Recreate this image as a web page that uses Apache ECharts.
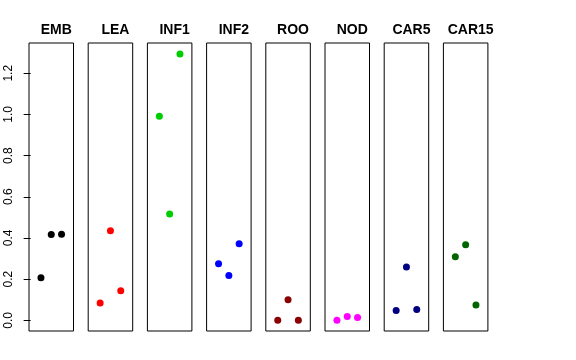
<!DOCTYPE html>
<html><head><meta charset="utf-8">
<script src="https://cdn.jsdelivr.net/npm/echarts@6/dist/echarts.min.js"></script>
<style>html,body{margin:0;padding:0;background:#fff}#c{width:576px;height:360px}</style>
</head><body><div id="c"></div>
<script>
const panels = ['EMB','LEA','INF1','INF2','ROO','NOD','CAR5','CAR15'];
const xPos = [1, 2, 3];
const EMB = [0.207, 0.417, 0.418];
const LEA = [0.084, 0.435, 0.144];
const INF1 = [0.991, 0.516, 1.294];
const INF2 = [0.275, 0.218, 0.372];
const ROO = [0.000, 0.100, 0.000];
const NOD = [0.000, 0.018, 0.013];
const CAR5 = [0.048, 0.259, 0.053];
const CAR15 = [0.309, 0.367, 0.074];
const yTicks = [0, 0.2, 0.4, 0.6, 0.8, 1.0, 1.2];
const seriesValues = [EMB, LEA, INF1, INF2, ROO, NOD, CAR5, CAR15];
const colors = ['#000000','#ff0000','#00cd00','#0000ff','#8b0000','#ff00ff','#000080','#006400'];

const FONT = 'Liberation Sans, Helvetica, Arial, sans-serif';
const gLeft0 = 29, gStep = 59.2, gW = 44.5, gTop = 43, gH = 288;
const ymin = -0.052, ymax = 1.347;

const grids = [], xAxes = [], yAxes = [], series = [], titles = [];
panels.forEach((name, i) => {
  const l = gLeft0 + i * gStep;
  grids.push({left: l, top: gTop, width: gW, height: gH, show: true, borderColor: '#000', borderWidth: 1, backgroundColor: 'transparent'});
  xAxes.push({type: 'value', gridIndex: i, min: -0.16, max: 4.16, show: false});
  yAxes.push({
    type: 'value', gridIndex: i, min: ymin, max: ymax,
    show: i === 0,
    splitLine: {show: false},
    axisLine: {show: false},
    axisTick: {show: true, length: 7, lineStyle: {color: '#000'}, customValues: yTicks},
    axisLabel: {show: true, rotate: 90, margin: 14, color: '#000', fontSize: 12, fontFamily: FONT,
      customValues: yTicks, formatter: v => v.toFixed(1)}
  });
  series.push({
    type: 'scatter', xAxisIndex: i, yAxisIndex: i, symbol: 'circle', symbolSize: 7,
    itemStyle: {color: colors[i], opacity: 1}, silent: true,
    data: xPos.map((x, k) => [x, seriesValues[i][k]])
  });
  titles.push({text: name, left: l + gW / 2, top: 18, textAlign: 'center',
    textStyle: {fontSize: 14, fontWeight: 'bold', color: '#000', fontFamily: FONT}});
});

const chart = echarts.init(document.getElementById('c'), null, {renderer: 'canvas'});
chart.setOption({
  animation: false,
  title: titles,
  grid: grids, xAxis: xAxes, yAxis: yAxes, series: series
});
</script></body></html>
